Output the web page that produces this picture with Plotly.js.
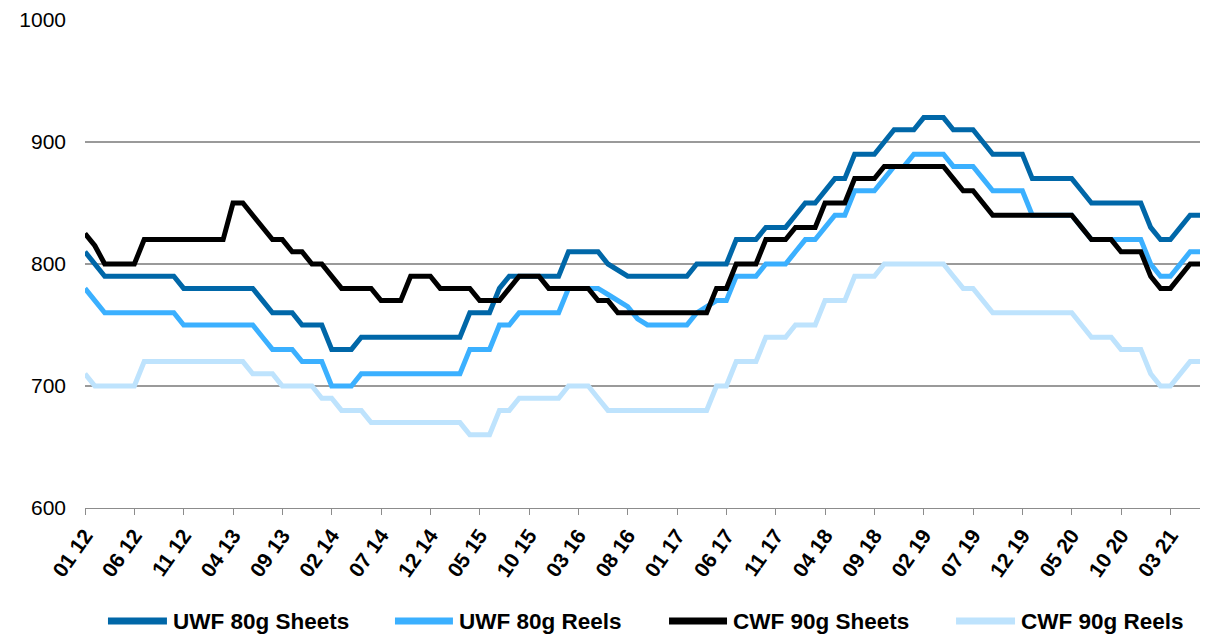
<!DOCTYPE html>
<html>
<head>
<meta charset="utf-8">
<script src="https://cdn.plot.ly/plotly-3.0.1.min.js"></script>
<style>
html,body{margin:0;padding:0;background:#fff;}
#chart{width:1205px;height:636px;}
</style>
</head>
<body>
<div id="chart"></div>
<script>
const months = [
"01 12","02 12","03 12","04 12","05 12","06 12","07 12","08 12","09 12","10 12","11 12","12 12",
"01 13","02 13","03 13","04 13","05 13","06 13","07 13","08 13","09 13","10 13","11 13","12 13",
"01 14","02 14","03 14","04 14","05 14","06 14","07 14","08 14","09 14","10 14","11 14","12 14",
"01 15","02 15","03 15","04 15","05 15","06 15","07 15","08 15","09 15","10 15","11 15","12 15",
"01 16","02 16","03 16","04 16","05 16","06 16","07 16","08 16","09 16","10 16","11 16","12 16",
"01 17","02 17","03 17","04 17","05 17","06 17","07 17","08 17","09 17","10 17","11 17","12 17",
"01 18","02 18","03 18","04 18","05 18","06 18","07 18","08 18","09 18","10 18","11 18","12 18",
"01 19","02 19","03 19","04 19","05 19","06 19","07 19","08 19","09 19","10 19","11 19","12 19",
"01 20","02 20","03 20","04 20","05 20","06 20","07 20","08 20","09 20","10 20","11 20","12 20",
"01 21","02 21","03 21","04 21","05 21","06 21"
];

const tickLabels = ["01 12","06 12","11 12","04 13","09 13","02 14","07 14","12 14","05 15","10 15",
"03 16","08 16","01 17","06 17","11 17","04 18","09 18","02 19","07 19","12 19","05 20","10 20","03 21"];

const uwfSheets = [
810,800,790,790,790,790,790,790,790,790,780,780,
780,780,780,780,780,780,770,760,760,760,750,750,
750,730,730,730,740,740,740,740,740,740,740,740,
740,740,740,760,760,760,780,790,790,790,790,790,
790,810,810,810,810,800,795,790,790,790,790,790,
790,790,800,800,800,800,820,820,820,830,830,830,
840,850,850,860,870,870,890,890,890,900,910,910,
910,920,920,920,910,910,910,900,890,890,890,890,
870,870,870,870,870,860,850,850,850,850,850,850,
830,820,820,830,840,840
];

const uwfReels = [
780,770,760,760,760,760,760,760,760,760,750,750,
750,750,750,750,750,750,740,730,730,730,720,720,
720,700,700,700,710,710,710,710,710,710,710,710,
710,710,710,730,730,730,750,750,760,760,760,760,
760,780,780,780,780,775,770,765,755,750,750,750,
750,750,760,765,770,770,790,790,790,800,800,800,
810,820,820,830,840,840,860,860,860,870,880,880,
890,890,890,890,880,880,880,870,860,860,860,860,
840,840,840,840,840,830,820,820,820,820,820,820,
800,790,790,800,810,810
];

const cwfSheets = [
825,815,800,800,800,800,820,820,820,820,820,820,
820,820,820,850,850,840,830,820,820,810,810,800,
800,790,780,780,780,780,770,770,770,790,790,790,
780,780,780,780,770,770,770,780,790,790,790,780,
780,780,780,780,770,770,760,760,760,760,760,760,
760,760,760,760,780,780,800,800,800,820,820,820,
830,830,830,850,850,850,870,870,870,880,880,880,
880,880,880,880,870,860,860,850,840,840,840,840,
840,840,840,840,840,830,820,820,820,810,810,810,
790,780,780,790,800,800
];

const cwfReels = [
710,700,700,700,700,700,720,720,720,720,720,720,
720,720,720,720,720,710,710,710,700,700,700,700,
690,690,680,680,680,670,670,670,670,670,670,670,
670,670,670,660,660,660,680,680,690,690,690,690,
690,700,700,700,690,680,680,680,680,680,680,680,
680,680,680,680,700,700,720,720,720,740,740,740,
750,750,750,770,770,770,790,790,790,800,800,800,
800,800,800,800,790,780,780,770,760,760,760,760,
760,760,760,760,760,750,740,740,740,730,730,730,
710,700,700,710,720,720
];

const seriesNames = ["UWF 80g Sheets","UWF 80g Reels","CWF 90g Sheets","CWF 90g Reels"];
const seriesColors = ["#0067A8","#3BB0FF","#000000","#BEE3FD"];
const seriesData = [uwfSheets, uwfReels, cwfSheets, cwfReels];

const FONT = "'Liberation Sans', Arial, Helvetica, sans-serif";

const traces = seriesData.map((d, k) => ({
  type: "scatter",
  mode: "lines",
  name: seriesNames[k],
  x: months,
  y: d,
  line: {color: seriesColors[k], width: 5},
  hoverinfo: "x+y+name",
  showlegend: false
}));

// custom legend (paper coordinates)
const legX = [[0.0206,0.0735,0.0771],[0.278,0.330,0.3336],[0.5238,0.5758,0.5794],[0.7812,0.8341,0.8377]];
const legY = -0.2316;
const shapes = [];
const annotations = [];
seriesNames.forEach((n, k) => {
  shapes.push({type:"line", xref:"paper", yref:"paper", x0:legX[k][0], x1:legX[k][1], y0:legY, y1:legY,
    line:{color:seriesColors[k], width:7}});
  annotations.push({xref:"paper", yref:"paper", x:legX[k][2], y:legY, xanchor:"left", yanchor:"middle",
    showarrow:false, text:n, font:{family:FONT, size:22.5, color:"#000", weight:"bold"}});
});

const layout = {
  width: 1205,
  height: 636,
  margin: {l:85, r:5, t:20, b:128},
  paper_bgcolor: "#fff",
  plot_bgcolor: "#fff",
  font: {family: FONT, color: "#000"},
  showlegend: false,
  xaxis: {
    type: "category",
    range: [0, months.length - 1],
    tickmode: "array",
    tickvals: tickLabels,
    ticktext: tickLabels,
    tickangle: -55,
    tickfont: {family: FONT, size: 21, color: "#000", weight: "bold"},
    showline: true,
    linecolor: "#8c8c8c",
    linewidth: 1,
    ticks: "outside",
    ticklen: 6,
    tickcolor: "#8c8c8c",
    showgrid: false,
    zeroline: false,
    fixedrange: true
  },
  yaxis: {
    range: [600, 1000],
    tick0: 600,
    dtick: 100,
    showgrid: true,
    gridcolor: "#9a9a9a",
    gridwidth: 2,
    showline: false,
    zeroline: false,
    ticks: "",
    ticklabelstandoff: 18,
    tickfont: {family: FONT, size: 21, color: "#000"},
    fixedrange: true
  },
  shapes: shapes,
  annotations: annotations
};

Plotly.newPlot("chart", traces, layout, {displayModeBar: false, staticPlot: false});
</script>
</body>
</html>
